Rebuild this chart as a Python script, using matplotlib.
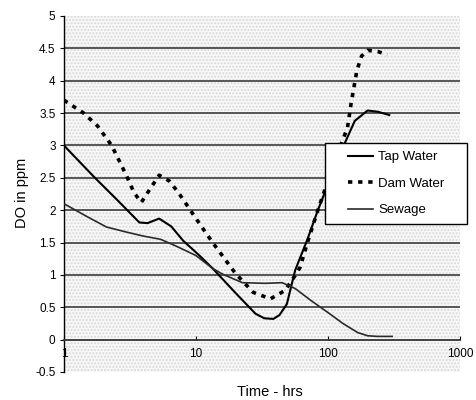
import numpy as np
import matplotlib
matplotlib.use('Agg')
import matplotlib.pyplot as plt
from matplotlib.ticker import MultipleLocator, FixedLocator, FuncFormatter
from matplotlib.patches import Rectangle
from matplotlib.lines import Line2D
from matplotlib.legend_handler import HandlerLine2D

plt.rcParams['font.family'] = ['Liberation Sans', 'DejaVu Sans']

# data
##################################################
tap_x = [1, 1.68, 2.5, 3.73, 4.3, 5.27, 6.5, 8.0, 10.5, 13.4, 20, 28.3, 33, 38.6,
         43, 48.9, 56.5, 70, 84, 105, 134, 160, 200, 240, 292]
tap_y = [3.0, 2.52, 2.17, 1.81, 1.8, 1.87, 1.75, 1.53, 1.31, 1.10, 0.72, 0.40, 0.33, 0.32,
         0.38, 0.55, 1.07, 1.55, 2.0, 2.5, 3.03, 3.38, 3.54, 3.52, 3.47]

dam_x = [1, 1.41, 1.8, 2.3, 2.97, 3.4, 3.86, 4.4, 5.27, 6.3, 7.5, 8.87, 11, 13.4,
         16.5, 20, 27.2, 36.7, 47.4, 56.5, 61.7, 70, 84, 100, 120, 141, 150, 166,
         180, 200, 240, 282]
dam_y = [3.7, 3.5, 3.3, 3.0, 2.54, 2.27, 2.12, 2.3, 2.54, 2.45, 2.25, 2.03, 1.75, 1.50,
         1.25, 1.02, 0.73, 0.63, 0.76, 0.99, 1.12, 1.5, 2.0, 2.45, 2.9, 3.28, 3.65, 4.16,
         4.38, 4.47, 4.45, 4.40]

sew_x = [1, 1.5, 2.1, 3.0, 4.0, 5.4, 7.0, 10, 13.4, 16, 22.5, 33.6, 45, 56.5, 75,
         100, 130, 168, 200, 237, 307]
sew_y = [2.1, 1.9, 1.74, 1.66, 1.6, 1.55, 1.45, 1.30, 1.10, 1.01, 0.88, 0.87, 0.88, 0.79, 0.6,
         0.42, 0.25, 0.11, 0.06, 0.05, 0.05]

labels = ['Tap Water', 'Dam Water', 'Sewage']
x_ticks = [1, 10, 100, 1000]
##################################################


# figure
##################################################
fig = plt.figure(figsize=(4.77, 4.0), dpi=100)
ax = fig.add_axes([0.134, 0.07, 0.830, 0.89])
ax.set_facecolor('#f8f8f8')
ax.add_patch(Rectangle((0, 0), 1, 1, transform=ax.transAxes, facecolor='none',
                       edgecolor='#d8d8d8', hatch='.....', linewidth=0, zorder=0))

for yv in np.arange(0.5, 5, 0.5):
    ax.axhline(yv, color='#4a4a4a', linewidth=1.3, zorder=1)

ax.plot(tap_x, tap_y, color='black', linewidth=1.5, label=labels[0], zorder=3)
ax.plot(dam_x, dam_y, color='black', linewidth=2.6, linestyle=(0, (1.2, 1.6)),
        label=labels[1], zorder=3)
ax.plot(sew_x, sew_y, color='#2a2a2a', linewidth=1.2, label=labels[2], zorder=3)

ax.set_xscale('log')
ax.set_xlim(1, 1000)
ax.set_ylim(-0.5, 5)
ax.xaxis.set_major_locator(FixedLocator(x_ticks))
ax.xaxis.set_minor_locator(FixedLocator([]))
ax.xaxis.set_major_formatter(FuncFormatter(lambda v, p: '%g' % v))
ax.yaxis.set_major_locator(MultipleLocator(0.5))
ax.yaxis.set_major_formatter(FuncFormatter(lambda v, p: '%g' % v))

ax.spines['top'].set_visible(False)
ax.spines['right'].set_visible(False)
ax.spines['bottom'].set_position(('data', 0))
ax.spines['bottom'].set_linewidth(1.3)
ax.spines['bottom'].set_color('#333333')
ax.spines['left'].set_linewidth(1.0)
ax.tick_params(axis='y', direction='out', length=3, labelsize=8.5, pad=3)
ax.tick_params(axis='x', direction='in', length=3, labelsize=8.5, pad=6)

leg = ax.legend(loc='upper left', bbox_to_anchor=(0.659, 0.643, 0.359, 0.0),
                mode='expand', fontsize=9.5,
                frameon=True, fancybox=False, framealpha=1, edgecolor='black',
                handlelength=3.05, handletextpad=0.38, labelspacing=1.08,
                borderpad=0.6, borderaxespad=0,
                handler_map={Line2D: HandlerLine2D(xpad=1.14)})
leg.get_frame().set_linewidth(1.0)

fig.text(0.046, 0.517, 'DO in ppm', rotation=90, ha='center', va='center', fontsize=10.5)
fig.text(0.566, 0.02, 'Time - hrs', ha='center', va='center', fontsize=10.5)

plt.savefig('out.png', dpi=100)
##################################################
